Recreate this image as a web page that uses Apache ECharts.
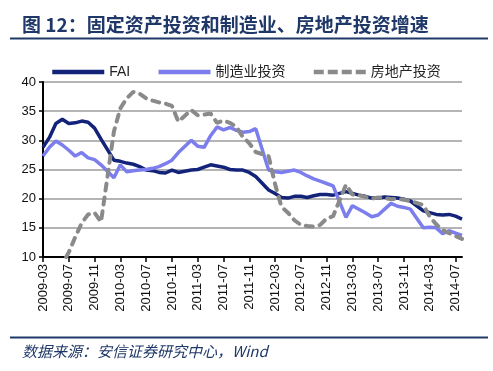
<!DOCTYPE html>
<html>
<head>
<meta charset="utf-8">
<script src="https://cdn.jsdelivr.net/npm/echarts@6/dist/echarts.min.js"></script>
<style>
html,body{margin:0;padding:0;background:#fff;}
#c{width:493px;height:371px;}
</style>
</head>
<body>
<div id="c"></div>
<script>
var titleText = '图 12：固定资产投资和制造业、房地产投资增速';
var sourceText = '数据来源：安信证券研究中心，Wind';
var seriesNames = ['FAI', '制造业投资', '房地产投资'];

var months = [
'2009-03','2009-04','2009-05','2009-06','2009-07','2009-08','2009-09','2009-10','2009-11','2009-12',
'2010-01','2010-02','2010-03','2010-04','2010-05','2010-06','2010-07','2010-08','2010-09','2010-10','2010-11','2010-12',
'2011-01','2011-02','2011-03','2011-04','2011-05','2011-06','2011-07','2011-08','2011-09','2011-10','2011-11','2011-12',
'2012-01','2012-02','2012-03','2012-04','2012-05','2012-06','2012-07','2012-08','2012-09','2012-10','2012-11','2012-12',
'2013-01','2013-02','2013-03','2013-04','2013-05','2013-06','2013-07','2013-08','2013-09','2013-10','2013-11','2013-12',
'2014-01','2014-02','2014-03','2014-04','2014-05','2014-06','2014-07','2014-08'
];

// January figures are not published (Jan-Feb combined), left empty
var fai = [
28.8, 30.5, 32.9, 33.6, 32.9, 33.0, 33.3, 33.1, 32.1, 30.2,
null, 26.6, 26.4, 26.1, 25.9, 25.5, 24.9, 24.8, 24.5, 24.4, 24.9, 24.5,
null, 24.9, 25.0, 25.4, 25.8, 25.6, 25.4, 25.0, 24.9, 24.9, 24.5, 23.8,
null, 21.5, 20.9, 20.2, 20.1, 20.4, 20.4, 20.2, 20.5, 20.7, 20.7, 20.6,
null, 21.2, 20.9, 20.6, 20.4, 20.1, 20.1, 20.3, 20.2, 20.1, 19.9, 19.6,
null, 17.9, 17.6, 17.3, 17.2, 17.3, 17.0, 16.5
];

var manufacturing = [
27.3, 28.8, 29.9, 29.2, 28.3, 27.3, 27.9, 27.0, 26.7, 25.8,
null, 23.6, 25.8, 24.6, 24.8, 24.9, 25.0, 25.2, 25.5, 26.0, 26.6, 27.9,
null, 30.0, 29.0, 28.8, 30.8, 32.3, 31.8, 32.2, 31.7, 31.4, 31.5, 32.0,
null, 24.9, 24.6, 24.5, 24.7, 24.9, 24.5, 23.9, 23.4, 23.0, 22.6, 22.2,
null, 16.8, 18.8, 18.2, 17.6, 16.9, 17.2, 18.2, 19.2, 18.7, 18.5, 18.2,
null, 15.0, 15.1, 15.0, 14.0, 14.5, 14.1, 13.7
];

var realEstate = [
4.1, 4.9, 6.8, 8.8, 10.8, 13.4, 15.8, 17.3, 17.6, 16.0,
null, 31.5, 35.5, 37.2, 38.3, 38.0, 37.2, 36.8, 36.5, 36.3, 35.9, 33.2,
null, 35.2, 34.3, 34.4, 34.6, 33.0, 33.4, 33.0, 32.3, 30.6, 29.5, 28.0,
null, 27.3, 22.5, 18.6, 17.6, 16.3, 15.5, 15.3, 15.2, 15.5, 16.6, 17.0,
null, 22.4, 20.7, 20.6, 20.3, 20.0, 20.2, 20.1, 19.9, 20.0, 19.8, 19.6,
null, 18.9, 16.9, 15.6, 14.6, 14.1, 13.6, 13.1
];

var yMin = 10, yMax = 40, yStep = 5;

var navy = '#1f3868';
var chart = echarts.init(document.getElementById('c'), null, {renderer: 'canvas'});
chart.setOption({
  animation: false,
  backgroundColor: '#fff',
  graphic: [
    {type: 'text', left: 22, top: 15, style: {text: titleText, fill: navy, font: 'bold 19px "Noto Sans CJK SC", "Liberation Sans", sans-serif'}},
    {type: 'line', shape: {x1: 10, y1: 38.5, x2: 488, y2: 38.5}, style: {stroke: navy, lineWidth: 2}},
    {type: 'line', shape: {x1: 10, y1: 337.5, x2: 488, y2: 337.5}, style: {stroke: navy, lineWidth: 2}},
    {type: 'text', left: 22, top: 344, style: {text: sourceText, fill: navy, font: 'italic 15px "Noto Sans CJK SC", "Liberation Sans", sans-serif'}}
  ],
  legend: {
    left: 45, top: 60,
    itemWidth: 52, itemHeight: 14, itemGap: 26,
    itemStyle: {opacity: 0},
    lineStyle: {width: 4.5},
    textStyle: {fontSize: 14, color: '#222', fontFamily: '"Liberation Sans", "Noto Sans CJK SC", sans-serif'},
    data: [
      {name: seriesNames[0]},
      {name: seriesNames[1]},
      {name: seriesNames[2], lineStyle: {width: 4.5, type: [10, 4], cap: 'butt'}}
    ]
  },
  grid: {left: 43, right: 31, top: 82, bottom: 114, containLabel: false},
  xAxis: {
    type: 'category',
    data: months,
    boundaryGap: false,
    axisLine: {lineStyle: {color: '#000', width: 2}},
    axisTick: {show: true, interval: 3, length: 5, lineStyle: {color: '#000', width: 1.5}},
    axisLabel: {interval: 3, rotate: 90, fontSize: 13, color: '#111', margin: 7, fontFamily: '"Liberation Sans", Arial, sans-serif'},
    splitLine: {show: false}
  },
  yAxis: {
    type: 'value',
    min: yMin, max: yMax, interval: yStep,
    axisLine: {show: true, lineStyle: {color: '#000', width: 2}},
    axisTick: {show: true, length: 4, lineStyle: {color: '#000', width: 1.5}},
    axisLabel: {fontSize: 13, color: '#111', margin: 7, fontFamily: '"Liberation Sans", Arial, sans-serif'},
    splitLine: {lineStyle: {color: '#b4b4b4', width: 2}}
  },
  series: [
    {name: seriesNames[0], type: 'line', data: fai, symbol: 'none', connectNulls: true, clip: true,
     lineStyle: {color: '#13237a', width: 3.5}, itemStyle: {color: '#13237a'}},
    {name: seriesNames[1], type: 'line', data: manufacturing, symbol: 'none', connectNulls: true, clip: true,
     lineStyle: {color: '#7b7eec', width: 3.5}, itemStyle: {color: '#7b7eec'}},
    {name: seriesNames[2], type: 'line', data: realEstate, symbol: 'none', connectNulls: true, clip: true,
     lineStyle: {color: '#8a8a8a', width: 4, type: [7, 7], cap: 'round'}, itemStyle: {color: '#8a8a8a'}}
  ]
});
</script>
</body>
</html>
